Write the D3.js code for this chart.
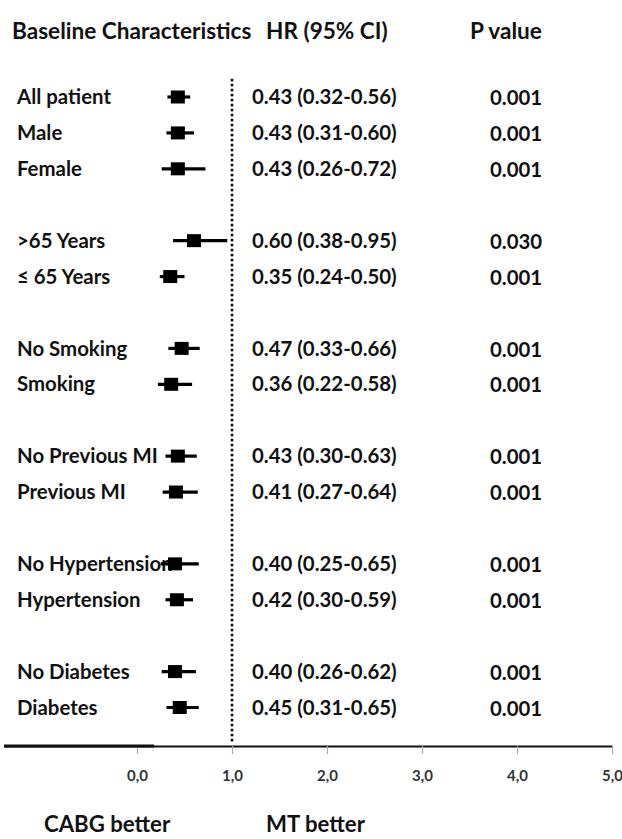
<!DOCTYPE html>
<html>
<head>
<meta charset="utf-8">
<script src="https://cdn.jsdelivr.net/npm/d3@7"></script>
<style>
  html, body { margin: 0; padding: 0; background: #fff; }
  svg { display: block; }
  text { font-family: Lato, "Liberation Sans", Arial, sans-serif; font-weight: bold; fill: #111; }
</style>
</head>
<body>
<svg id="chart" width="622" height="839"></svg>
<script>
// Subgroup hazard ratios (95% CI) and p values
const labels = ["All patient", "Male", "Female", ">65 Years", "\u2264 65 Years",
  "No Smoking", "Smoking", "No Previous MI", "Previous MI",
  "No Hypertension", "Hypertension", "No Diabetes", "Diabetes"];
const groups = [0, 0, 0, 1, 1, 2, 2, 3, 3, 4, 4, 5, 5];
const hr     = [0.43, 0.43, 0.43, 0.60, 0.35, 0.47, 0.36, 0.43, 0.41, 0.40, 0.42, 0.40, 0.45];
const ciLow  = [0.32, 0.31, 0.26, 0.38, 0.24, 0.33, 0.22, 0.30, 0.27, 0.25, 0.30, 0.26, 0.31];
const ciHigh = [0.56, 0.60, 0.72, 0.95, 0.50, 0.66, 0.58, 0.63, 0.64, 0.65, 0.59, 0.62, 0.65];
const pValues = ["0.001", "0.001", "0.001", "0.030", "0.001", "0.001", "0.001",
  "0.001", "0.001", "0.001", "0.001", "0.001", "0.001"];
const xTicks = [0, 1, 2, 3, 4, 5];
const headers = ["Baseline Characteristics", "HR (95% CI)", "P value"];
const sideLabels = ["CABG better", "MT better"];

const svg = d3.select("#chart");

const rows = labels.map((label, i) => ({
  label, hr: hr[i], lo: ciLow[i], hi: ciHigh[i], p: pValues[i],
  slot: i + groups[i]
}));

// Scales
const x = d3.scaleLinear().domain([-1.4, 5]).range([4, 612]);
const y = d3.scaleLinear().domain([0, d3.max(rows, d => d.slot)]).range([97, 707.5]);

const axisY = 746;
const bodySize = 20.4;
const bigSize = 22.6;

// Column headers
svg.append("g").selectAll("text")
  .data(headers)
  .join("text")
  .attr("x", (d, i) => [12, 266, 470][i])
  .attr("y", 39)
  .attr("font-size", bigSize)
  .text(d => d);

// Reference line at HR = 1
svg.append("line")
  .attr("x1", x(1)).attr("x2", x(1))
  .attr("y1", 80).attr("y2", axisY - 2)
  .attr("stroke", "#111")
  .attr("stroke-width", 3)
  .attr("stroke-linecap", "round")
  .attr("stroke-dasharray", "0 5");

// One group per subgroup row
const row = svg.append("g").selectAll("g")
  .data(rows)
  .join("g")
  .attr("transform", d => `translate(0,${y(d.slot)})`);

row.append("text")
  .attr("x", 17)
  .attr("dy", "0.35em")
  .attr("font-size", bodySize)
  .text(d => d.label);

row.append("line")
  .attr("x1", d => x(d.lo))
  .attr("x2", d => x(d.hi))
  .attr("stroke", "#000")
  .attr("stroke-width", 3.2);

row.append("rect")
  .attr("x", d => x(d.hr) - 7)
  .attr("y", -6.5)
  .attr("width", 14)
  .attr("height", 13)
  .attr("fill", "#000");

const f2 = d3.format(".2f");
row.append("text")
  .attr("x", 252)
  .attr("dy", "0.35em")
  .attr("font-size", bodySize)
  .text(d => `${f2(d.hr)} (${f2(d.lo)}-${f2(d.hi)})`);

row.append("text")
  .attr("x", 490)
  .attr("y", 1)
  .attr("dy", "0.35em")
  .attr("font-size", bodySize)
  .text(d => d.p);

// X axis with comma decimals
const commaLocale = d3.formatLocale({ decimal: ",", thousands: ".", grouping: [3], currency: ["", ""] });
const tickFmt = commaLocale.format(".1f");

const axis = svg.append("g")
  .attr("transform", `translate(0,${axisY})`)
  .call(d3.axisBottom(x)
    .tickValues(xTicks)
    .tickFormat(tickFmt)
    .tickSizeInner(8)
    .tickSizeOuter(0)
    .tickPadding(16));

axis.select(".domain").attr("stroke", "#111").attr("stroke-width", 2);
axis.selectAll(".tick line").attr("stroke", "#aaa").attr("stroke-width", 1.2);
axis.selectAll(".tick text")
  .attr("font-size", 15)
  .attr("font-family", "Lato, 'Liberation Sans', Arial, sans-serif")
  .attr("font-weight", "bold")
  .style("fill", "#333");

// Heavier left part of the baseline
svg.append("line")
  .attr("x1", x(-1.4)).attr("x2", x(0.18))
  .attr("y1", axisY).attr("y2", axisY)
  .attr("stroke", "#111")
  .attr("stroke-width", 3);

// Direction labels under the axis
svg.append("g").selectAll("text")
  .data(sideLabels)
  .join("text")
  .attr("x", (d, i) => [44, 266][i])
  .attr("y", 832)
  .attr("font-size", 22.2)
  .text(d => d);
</script>
</body>
</html>
